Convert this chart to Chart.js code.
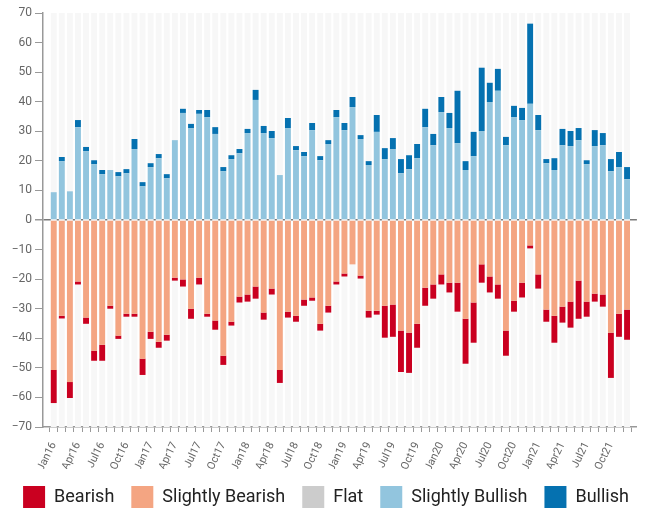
<!DOCTYPE html>
<html>
<head>
<meta charset="utf-8">
<script src="https://cdn.jsdelivr.net/npm/chart.js@4"></script>
<style>
  html, body { margin: 0; padding: 0; background: #fff; overflow: hidden; }
  #wrap { width: 655px; height: 508px; position: relative; }
</style>
</head>
<body>
<div id="wrap"><canvas id="sentimentChart"></canvas></div>
<script>
const monthNames = ['Jan', 'Feb', 'Mar', 'Apr', 'May', 'Jun', 'Jul', 'Aug', 'Sep', 'Oct', 'Nov', 'Dec'];
const years = ['16', '17', '18', '19', '20', '21'];
const categories = [];
years.forEach(y => monthNames.forEach(m => categories.push(m + y)));

const slightlyBullish = [
    9.4, 19.9, 9.7, 31.4, 23.3, 18.9, 15.5, 16.9, 14.8, 15.8, 24.0, 11.4,
    17.9, 20.9, 14.1, 27.0, 36.2, 31.1, 35.9, 34.8, 29.1, 16.5, 20.6, 22.6,
    29.4, 40.6, 29.4, 27.7, 15.2, 31.1, 23.6, 21.6, 30.4, 20.2, 25.7, 34.8,
    30.4, 38.2, 27.4, 18.6, 29.8, 20.6, 24.0, 15.8, 17.2, 20.9, 31.4, 25.3,
    36.5, 31.1, 26.0, 16.9, 21.6, 30.1, 39.9, 43.7, 25.3, 34.8, 33.8, 39.3,
    30.4, 19.2, 16.9, 25.3, 25.0, 27.0, 18.9, 25.0, 25.3, 16.5, 17.9, 13.8
];
const bullish = [
    0, 1.4, 0, 2.4, 1.4, 1.3, 1.4, 0, 1.4, 1.4, 3.4, 1.4,
    1.3, 1.4, 1.4, 0, 1.4, 1.4, 1.3, 2.4, 2.3, 1.4, 1.3, 1.4,
    1.4, 3.4, 2.4, 2.4, 0, 3.4, 1.4, 1.4, 2.4, 1.4, 1.3, 2.4,
    2.4, 3.4, 1.3, 1.3, 5.7, 3.7, 3.7, 4.8, 4.7, 4.8, 6.2, 3.8,
    5.1, 5.1, 17.7, 3.0, 8.2, 21.4, 6.5, 7.4, 2.8, 3.8, 4.1, 27.1,
    5.1, 1.4, 4.0, 5.5, 5.1, 4.1, 1.3, 5.4, 4.1, 4.1, 5.1, 4.1
];
const slightlyBearish = [
    -50.7, -32.4, -54.8, -20.8, -33.0, -44.2, -42.2, -29.0, -39.1, -31.7, -31.7, -46.9,
    -37.8, -41.2, -38.8, -19.5, -20.1, -30.0, -19.5, -31.7, -34.0, -45.9, -34.4, -25.9,
    -25.2, -22.5, -31.3, -23.2, -50.7, -31.0, -32.4, -26.9, -26.2, -35.1, -29.0, -20.8,
    -18.1, -15.0, -18.8, -30.7, -30.7, -29.0, -28.6, -37.4, -38.1, -35.1, -22.9, -21.8,
    -18.4, -21.2, -21.2, -33.4, -27.9, -15.0, -19.1, -21.8, -37.4, -27.3, -21.2, -8.6,
    -18.4, -30.3, -32.4, -29.3, -27.6, -20.5, -27.6, -24.9, -25.2, -38.1, -31.7, -30.3
];
const bearish = [
    -11.2, -0.9, -5.4, -1.0, -2.1, -3.4, -5.4, -1.0, -1.1, -1.0, -1.0, -5.5,
    -2.4, -2.0, -2.0, -1.0, -2.4, -3.4, -2.3, -1.0, -3.1, -3.1, -1.3, -2.0,
    -2.4, -4.1, -2.4, -2.0, -4.4, -2.0, -2.0, -2.1, -1.1, -2.3, -2.3, -1.0,
    -1.0, 0, -1.0, -2.3, -1.3, -10.8, -10.9, -14.0, -13.6, -8.1, -6.1, -4.8,
    -3.4, -3.3, -9.8, -15.2, -13.6, -6.2, -5.4, -4.8, -8.5, -3.7, -5.0, -1.0,
    -4.8, -4.1, -9.1, -5.4, -8.8, -12.9, -5.1, -2.7, -4.1, -15.3, -7.8, -10.2
];
const flat = [];

const legendOrder = ['Bearish', 'Slightly Bearish', 'Flat', 'Slightly Bullish', 'Bullish'];
const yMin = -70, yMax = 70;

const toPoints = arr => arr.map((v, i) => ({ x: i, y: v }));

// light grey column behind every month
const columnStripes = {
    id: 'columnStripes',
    beforeDatasetsDraw(chart) {
        const { ctx, scales: { x, y } } = chart;
        const step = x.getPixelForValue(1) - x.getPixelForValue(0);
        const w = step * 0.73;
        const top = y.getPixelForValue(yMax);
        const bottom = y.getPixelForValue(yMin);
        ctx.save();
        ctx.fillStyle = '#f7f7f7';
        categories.forEach((c, i) => {
            const cx = x.getPixelForValue(i);
            ctx.fillRect(cx - w / 2, top, w, bottom - top);
        });
        ctx.restore();
    }
};

Chart.defaults.font.family = 'Roboto, "Noto Sans", sans-serif';

new Chart(document.getElementById('sentimentChart'), {
    type: 'bar',
    data: {
        datasets: [
            { label: 'Slightly Bearish', data: toPoints(slightlyBearish), backgroundColor: '#f4a582' },
            { label: 'Bearish', data: toPoints(bearish), backgroundColor: '#ca0020' },
            { label: 'Flat', data: toPoints(flat), backgroundColor: '#cccccc' },
            { label: 'Slightly Bullish', data: toPoints(slightlyBullish), backgroundColor: '#92c5de' },
            { label: 'Bullish', data: toPoints(bullish), backgroundColor: '#0571b0' }
        ]
    },
    options: {
        responsive: true,
        maintainAspectRatio: false,
        animation: false,
        datasets: { bar: { categoryPercentage: 1, barPercentage: 0.73, borderWidth: 0 } },
        layout: { padding: { top: 13, right: 3, left: 0, bottom: -10 } },
        plugins: {
            tooltip: { enabled: false },
            legend: {
                position: 'bottom',
                labels: {
                    boxWidth: 22,
                    boxHeight: 22,
                    padding: 17,
                    color: '#222',
                    font: { size: 18 },
                    sort: (a, b) => legendOrder.indexOf(a.text) - legendOrder.indexOf(b.text)
                }
            }
        },
        scales: {
            x: {
                type: 'linear',
                stacked: true,
                offset: false,
                min: -1.33,
                max: 72.22,
                afterFit: s => { s.height = 42; },
                grid: { drawOnChartArea: false, tickLength: 5, tickColor: '#999' },
                border: { color: '#999', width: 1.5 },
                ticks: {
                    stepSize: 1,
                    maxTicksLimit: 200,
                    autoSkip: false,
                    includeBounds: false,
                    minRotation: 64,
                    maxRotation: 64,
                    padding: 8,
                    color: '#666',
                    font: { size: 11 },
                    callback: v => (Number.isInteger(v) && v >= 0 && v % 3 === 0 && categories[v]) ? categories[v] : ''
                }
            },
            y: {
                stacked: true,
                min: yMin,
                max: yMax,
                z: 1,
                afterFit: s => { s.width = 43; },
                grid: {
                    drawOnChartArea: true,
                    tickLength: 8,
                    tickColor: '#999',
                    color: c => (c.tick && c.tick.value === 0) ? '#7a7a7a' : 'rgba(0,0,0,0)',
                    lineWidth: c => (c.tick && c.tick.value === 0) ? 1.5 : 1
                },
                border: { color: '#999', width: 1.5 },
                ticks: {
                    stepSize: 10,
                    padding: 3,
                    color: '#666',
                    font: { size: 12 },
                    callback: v => String(v).replace('-', '\u2212')
                }
            }
        }
    },
    plugins: [columnStripes]
});
</script>
</body>
</html>
